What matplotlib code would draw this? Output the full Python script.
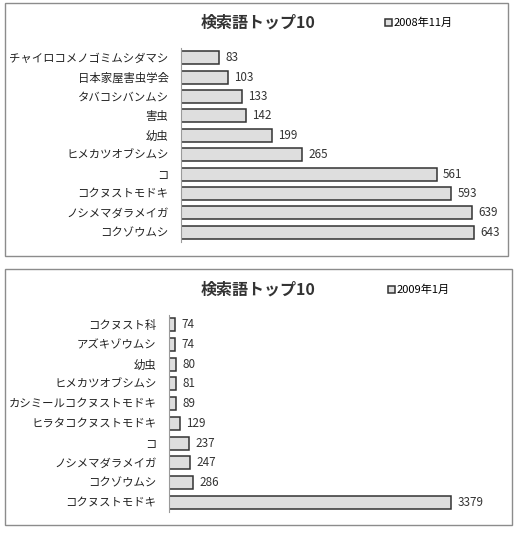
import matplotlib.pyplot as plt
from matplotlib.patches import Rectangle

plt.rcParams['font.family'] = ['Noto Sans CJK JP', 'DejaVu Sans']

title = "検索語トップ10"

# 2008年11月
labels1 = ["チャイロコメノゴミムシダマシ", "日本家屋害虫学会", "タバコシバンムシ", "害虫", "幼虫",
           "ヒメカツオブシムシ", "コ", "コクヌストモドキ", "ノシメマダラメイガ", "コクゾウムシ"]
values1 = [83, 103, 133, 142, 199, 265, 561, 593, 639, 643]
series1 = "2008年11月"

# 2009年1月
labels2 = ["コクヌスト科", "アズキゾウムシ", "幼虫", "ヒメカツオブシムシ", "カシミールコクヌストモドキ",
           "ヒラタコクヌストモドキ", "コ", "ノシメマダラメイガ", "コクゾウムシ", "コクヌストモドキ"]
values2 = [74, 74, 80, 81, 89, 129, 237, 247, 286, 3379]
series2 = "2009年1月"

W, H = 515, 536
fig = plt.figure(figsize=(W / 100, H / 100), dpi=100)


def px(x0, y0, x1, y1):
    # pixel box (top-left origin) -> figure fraction rect
    return [x0 / W, 1 - y1 / H, (x1 - x0) / W, (y1 - y0) / H]


def panel(box, axbox, labels, values, xmax, series, title_y, legend_x):
    x0, y0, x1, y1 = box
    fig.patches.append(Rectangle((x0 / W, 1 - y1 / H), (x1 - x0) / W, (y1 - y0) / H,
                                 transform=fig.transFigure, fill=False,
                                 edgecolor='#8c8c8c', linewidth=1))
    ax = fig.add_axes(px(*axbox))
    ypos = list(range(len(labels)))
    bars = ax.barh(ypos, values, height=0.66, color='#dedede', edgecolor='#333333',
                   linewidth=1.1, label=series)
    ax.set_xlim(0, xmax)
    ax.set_ylim(len(labels) - 0.5, -0.5)
    ax.set_yticks(ypos)
    ax.set_yticklabels(labels, fontsize=8.2, color='#222222')
    ax.tick_params(axis='y', length=0, pad=9)
    ax.set_xticks([])
    for s in ['top', 'right', 'bottom']:
        ax.spines[s].set_visible(False)
    ax.spines['left'].set_color('#9a9a9a')
    for b, v in zip(bars, values):
        ax.text(b.get_width() + xmax * 0.02, b.get_y() + b.get_height() / 2, str(v),
                va='center', ha='left', fontsize=8.4, color='#333333')
    fig.text(258 / W, 1 - title_y / H, title, ha='center', va='center',
             fontsize=11.5, fontweight='bold', color='#333333')
    ax.legend(loc='center left', bbox_to_anchor=(legend_x / W, 1 - title_y / H),
              bbox_transform=fig.transFigure, frameon=False, fontsize=8,
              handlelength=0.6, handleheight=0.6, handletextpad=0.2,
              borderpad=0, borderaxespad=0)


panel((5, 3, 508, 256), (181, 48, 500, 242), labels1, values1, 700, series1, 23, 385)
panel((5, 269, 512, 525), (169, 315, 490, 512), labels2, values2, 3850, series2, 290, 388)

fig.savefig('out.png', dpi=100)
